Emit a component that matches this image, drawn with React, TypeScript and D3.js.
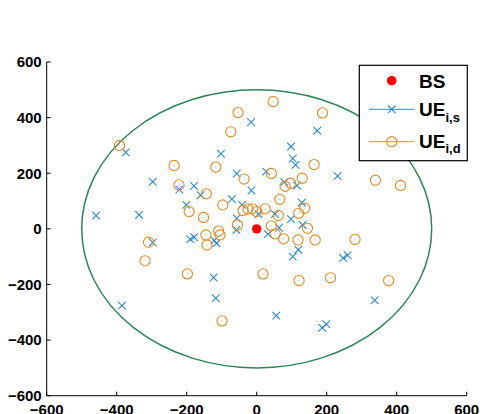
import * as d3 from "d3";

// 位置資料（單位：m）
const bs: [number, number] = [0, 0];
const cellRadius = 500;

const ueS: [number, number][] = [
  [-459, 48], [-374, 275], [-297, 169], [-336, 50], [-221, 141], [-179, 154],
  [-160, 121], [-201, 86], [-102, 270], [-57, 199], [-71, 107], [-16, 384],
  [98, 296], [103, 253], [111, 230], [27, 206], [79, 168], [115, 156],
  [-15, 138], [173, 353], [231, 190], [129, 94], [52, 53], [98, 35],
  [131, 14], [64, 4], [-42, 86], [5, 53], [32, -19], [119, -75],
  [103, -100], [247, -105], [260, -95], [337, -257], [56, -312], [187, -356],
  [199, -343], [-297, -49], [-385, -276], [-190, -37], [-179, -30], [-121, -42],
  [-115, -52], [-123, -175], [-117, -249], [-58, -4], [-57, 38],
];

const ueD: [number, number][] = [
  [-392, 300], [-236, 228], [-222, 158], [-144, 126], [-193, 62], [-152, 41],
  [-97, 86], [-53, 418], [-74, 349], [-117, 222], [-36, 179], [47, 458],
  [188, 417], [164, 231], [42, 199], [130, 182], [97, 164], [81, 153],
  [339, 175], [411, 156], [66, 106], [137, 74], [120, 56], [-25, 71],
  [-12, 72], [0, 62], [24, 72], [62, 48], [-39, 66], [-55, 14],
  [42, 11], [53, -18], [77, -36], [118, -40], [167, -40], [145, 2],
  [281, -38], [18, -162], [121, -186], [211, -176], [377, -186], [-309, -48],
  [-319, -115], [-198, -162], [-145, -22], [-142, -58], [-109, -8], [-105, -22],
  [-99, -331],
];

const xTicks = [-600, -400, -200, 0, 200, 400, 600];
const yTicks = [-600, -400, -200, 0, 200, 400, 600];

const width = 480;
const height = 414;
const plot = { left: 46.7, right: 466.7, top: 62, bottom: 395.7 };

const blue = "#2a8bd0";
const orange = "#e38b23";
const green = "#2e8657";
const font = "'Liberation Sans', Arial, sans-serif";

const crossPath = (s: number) => `M${-s},${-s}L${s},${s}M${-s},${s}L${s},${-s}`;

export default function App() {
  const x = d3.scaleLinear().domain([-600, 600]).range([plot.left, plot.right]);
  const y = d3.scaleLinear().domain([-600, 600]).range([plot.bottom, plot.top]);
  const fmt = d3.format("d");

  // 圖例位置
  const lg = { x: 359.3, y: 65.3, w: 108, h: 95.4 };
  const symX = 391.7;
  const textX = 419;

  return (
    <svg
      width={width}
      height={height}
      style={{ position: "absolute", left: 0, top: 0, background: "#fff" }}
      fontFamily={font}
    >
      {/* 細胞範圍 */}
      <ellipse
        cx={x(0)}
        cy={y(0)}
        rx={x(cellRadius) - x(0)}
        ry={y(0) - y(cellRadius)}
        fill="none"
        stroke={green}
        strokeWidth={1.5}
      />

      {/* UE i,s */}
      <g stroke={blue} strokeWidth={1.1} fill="none">
        {ueS.map((d, i) => (
          <path
            key={i}
            d={crossPath(3.8)}
            transform={`translate(${x(d[0])},${y(d[1])})`}
          />
        ))}
      </g>

      {/* UE i,d */}
      <g stroke={orange} strokeWidth={1.1} fill="none">
        {ueD.map((d, i) => (
          <g key={i} transform={`translate(${x(d[0])},${y(d[1])})`}>
            <circle r={5.1} />
            <circle r={0.4} strokeWidth={0.6} opacity={0.6} />
          </g>
        ))}
      </g>

      {/* BS */}
      <circle cx={x(bs[0])} cy={y(bs[1])} r={4.7} fill="#ff0000" />

      {/* 軸 */}
      <g stroke="#000" strokeWidth={1} fill="none">
        <line x1={plot.left} x2={plot.left} y1={plot.top} y2={plot.bottom} />
        <line x1={plot.left} x2={plot.right} y1={plot.bottom} y2={plot.bottom} />
        {xTicks.map((t) => (
          <line key={t} x1={x(t)} x2={x(t)} y1={plot.bottom} y2={plot.bottom - 4} />
        ))}
        {yTicks.map((t) => (
          <line key={t} x1={plot.left} x2={plot.left + 4} y1={y(t)} y2={y(t)} />
        ))}
      </g>
      <g fontSize={15} fontWeight="bold" fill="#000">
        {yTicks.map((t) => (
          <text key={t} x={plot.left - 5} y={y(t)} dy="0.36em" textAnchor="end">
            {fmt(t)}
          </text>
        ))}
        {xTicks.map((t) => (
          <text key={t} x={x(t)} y={plot.bottom + 19.5} textAnchor="middle">
            {fmt(t)}
          </text>
        ))}
      </g>

      {/* 圖例 */}
      <rect
        x={lg.x}
        y={lg.y}
        width={lg.w}
        height={lg.h}
        fill="#fff"
        stroke="#000"
        strokeWidth={1.2}
      />
      <circle cx={symX} cy={80.7} r={4.8} fill="#ff0000" />
      <line x1={369} x2={414} y1={109.3} y2={109.3} stroke={blue} strokeWidth={1} />
      <path d={crossPath(3.8)} transform={`translate(${symX},109.3)`} stroke={blue} strokeWidth={1.1} />
      <line x1={369} x2={414} y1={141.7} y2={141.7} stroke={orange} strokeWidth={1} />
      <circle cx={symX} cy={141.7} r={5.1} fill="none" stroke={orange} strokeWidth={1.1} />
      <g fontWeight="bold" fill="#000">
        <text x={textX} y={88.3} fontSize={19}>BS</text>
        <text x={textX} y={116} fontSize={19}>
          UE<tspan fontSize={13} dy={5.7}>i,s</tspan>
        </text>
        <text x={textX} y={147.5} fontSize={19}>
          UE<tspan fontSize={13} dy={5.7}>i,d</tspan>
        </text>
      </g>
    </svg>
  );
}
